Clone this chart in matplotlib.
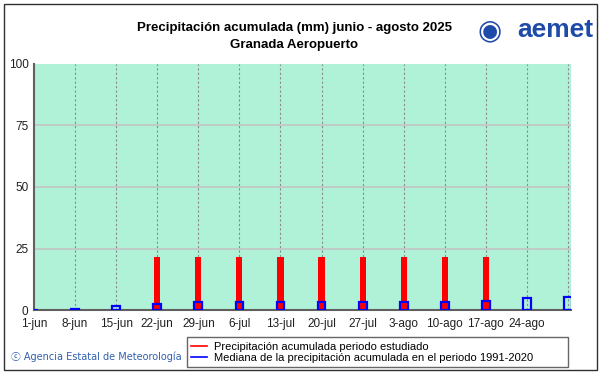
import matplotlib.pyplot as plt
import matplotlib.patches as mpatches
from matplotlib.lines import Line2D
import numpy as np

plt.rcParams['font.family'] = ['Liberation Sans', 'DejaVu Sans']

# semanas del periodo
fechas = ['1-jun', '8-jun', '15-jun', '22-jun', '29-jun', '6-jul', '13-jul',
          '20-jul', '27-jul', '3-ago', '10-ago', '17-ago', '24-ago', '31-ago']
etiquetas = fechas[:-1]

# precipitacion acumulada del periodo estudiado (mm), None = sin dato
acumulada = [0, 0, 0, 21.5, 21.5, 21.5, 21.5, 21.5, 21.5, 21.5, 21.5, 21.5, None, None]

# mediana 1991-2020 (mm)
mediana = [0, 0.3, 1.6, 2.4, 3.1, 3.1, 3.1, 3.1, 3.1, 3.1, 3.1, 3.8, 5.0, 5.2]

x = np.arange(len(fechas))

fig = plt.figure(figsize=(6.01, 3.74), dpi=100)
ax = fig.add_axes([0.0566, 0.171, 0.894, 0.658])
ax.set_facecolor('#b0f2d8')

# barras rojas
xs = [i for i, v in zip(x, acumulada) if v is not None]
vs = [v for v in acumulada if v is not None]
ax.bar(xs, vs, width=0.15, color='#ff0000', zorder=3)

# cajas azules de la mediana
ax.bar(x, mediana, width=0.19, facecolor='none', edgecolor='#0000ff',
       linewidth=1.6, zorder=4)

ax.set_xlim(0, 13.08)
ax.set_ylim(0, 100)
ax.set_xticks(x[:-1])
ax.set_xticklabels(etiquetas, fontsize=8.5, color='#202020')
ax.set_yticks([0, 25, 50, 75, 100])
ax.set_yticklabels(['0', '25', '50', '75', '100'], fontsize=8.5, color='#202020')
ax.tick_params(length=0, pad=6)
ax.tick_params(axis='y', pad=4)

for i in x[1:]:
    ax.axvline(i, color='#8a8a8a', linestyle=(0, (2, 2)), linewidth=0.8, zorder=1)
for v in [25, 50, 75]:
    ax.axhline(v, color='#c4c4c4', linewidth=1.2, zorder=1)

for s in ['top', 'right']:
    ax.spines[s].set_visible(False)
for s in ['left', 'bottom']:
    ax.spines[s].set_color('#606060')
    ax.spines[s].set_linewidth(1.5)

fig.text(0.49, 0.926, 'Precipitación acumulada (mm) junio - agosto 2025',
         ha='center', va='center', fontsize=9.5, fontweight='bold')
fig.text(0.49, 0.880, 'Granada Aeropuerto',
         ha='center', va='center', fontsize=9.5, fontweight='bold')

# logo aemet (texto)
fig.text(0.987, 0.92, 'aemet', ha='right', va='center', fontsize=19,
         fontweight='bold', color='#1e4ba8')
fig.text(0.814, 0.918, '◉', ha='center', va='center', fontsize=20,
         color='#1e4ba8', family=['DejaVu Sans'])

fig.text(0.018, 0.045, 'ⓒ Agencia Estatal de Meteorología', ha='left', va='center',
         fontsize=7, color='#3060b0', family=['DejaVu Sans', 'Noto Sans CJK SC'])

handles = [Line2D([0], [0], color='#ff0000', lw=1.2),
           Line2D([0], [0], color='#0000ff', lw=1.2)]
leg = fig.legend(handles,
                 ['Precipitación acumulada periodo estudiado',
                  'Mediana de la precipitación acumulada en el periodo 1991-2020'],
                 loc='lower left', bbox_to_anchor=(0.311, 0.018, 0.634, 0.082),
                 mode='expand', fontsize=8, frameon=True, fancybox=False,
                 handlelength=1.4, handletextpad=0.6, borderpad=0.4,
                 labelspacing=0.1, borderaxespad=0)
leg.get_frame().set_edgecolor('#404040')
leg.get_frame().set_linewidth(1.0)

# marco exterior
fig.patches.append(mpatches.Rectangle((0.007, 0.01), 0.986, 0.98,
                                      transform=fig.transFigure, fill=False,
                                      edgecolor='#303030', linewidth=1.0))

fig.savefig('out.png', dpi=100, facecolor='white')
